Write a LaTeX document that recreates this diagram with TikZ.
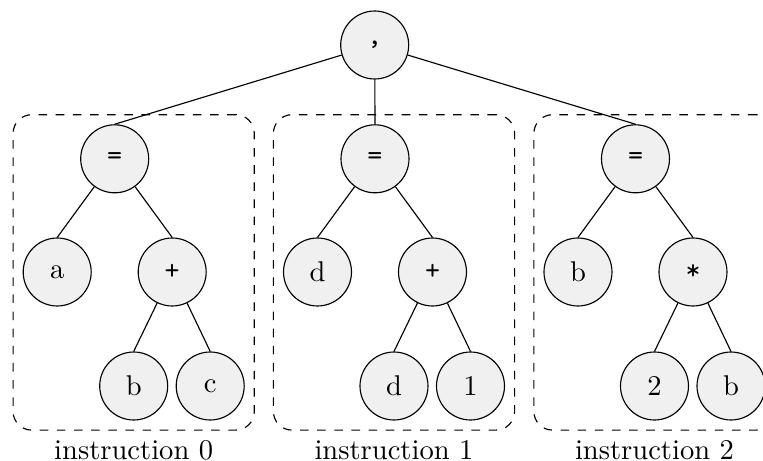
\documentclass[tikz,border=0pt]{standalone}
\usetikzlibrary{fit}
\definecolor{nodefill}{RGB}{240,240,240}
\begin{document}
\begin{tikzpicture}[x=0.35pt,y=-0.35pt,
  tn/.style={circle,draw,fill=nodefill,minimum size=23.8pt,inner sep=0pt},
  op/.style={tn,font=\ttfamily},
  box/.style={draw,dashed,rounded corners=6.5pt,inner sep=3.33pt},
  boxlabel/.style={inner sep=0pt,label distance=3.33pt}]
\useasboundingbox (0,0) rectangle (763,461);
% root
\node[op] (root) at (374.7,45) {,};
% tree 0
\node[op] (e0) at (114.7,158.8) {=};
\node[tn] (l0) at (57.2,272) {a};
\node[op] (o0) at (172.2,272) {+};
\node[tn] (g0a) at (133.7,386) {b};
\node[tn] (g0b) at (210.2,386) {c};
% tree 1
\node[op] (e1) at (375,158.8) {=};
\node[tn] (l1) at (317.5,272) {d};
\node[op] (o1) at (432.5,272) {+};
\node[tn] (g1a) at (394,386) {d};
\node[tn] (g1b) at (470.5,386) {1};
% tree 2
\node[op] (e2) at (635.5,158.8) {=};
\node[tn] (l2) at (578,272) {b};
\node[op] (o2) at (693,272) {*};
\node[tn] (g2a) at (654.5,386) {2};
\node[tn] (g2b) at (731,386) {b};
% boxes
\node[box,fit=(e0)(l0)(o0)(g0a)(g0b),label={[boxlabel]below:instruction 0}] (b0) {};
\node[box,fit=(e1)(l1)(o1)(g1a)(g1b),label={[boxlabel]below:instruction 1}] (b1) {};
\node[box,fit=(e2)(l2)(o2)(g2a)(g2b),label={[boxlabel]below:instruction 2}] (b2) {};
% edges
\draw (root) -- (e0.north);
\draw (root) -- (e1.north);
\draw (root) -- (e2.north);
\foreach \i in {0,1,2}{
  \draw (e\i) -- (l\i.north);
  \draw (e\i) -- (o\i.north);
  \draw (o\i) -- (g\i a.north);
  \draw (o\i) -- (g\i b.north);
}
\end{tikzpicture}
\end{document}
